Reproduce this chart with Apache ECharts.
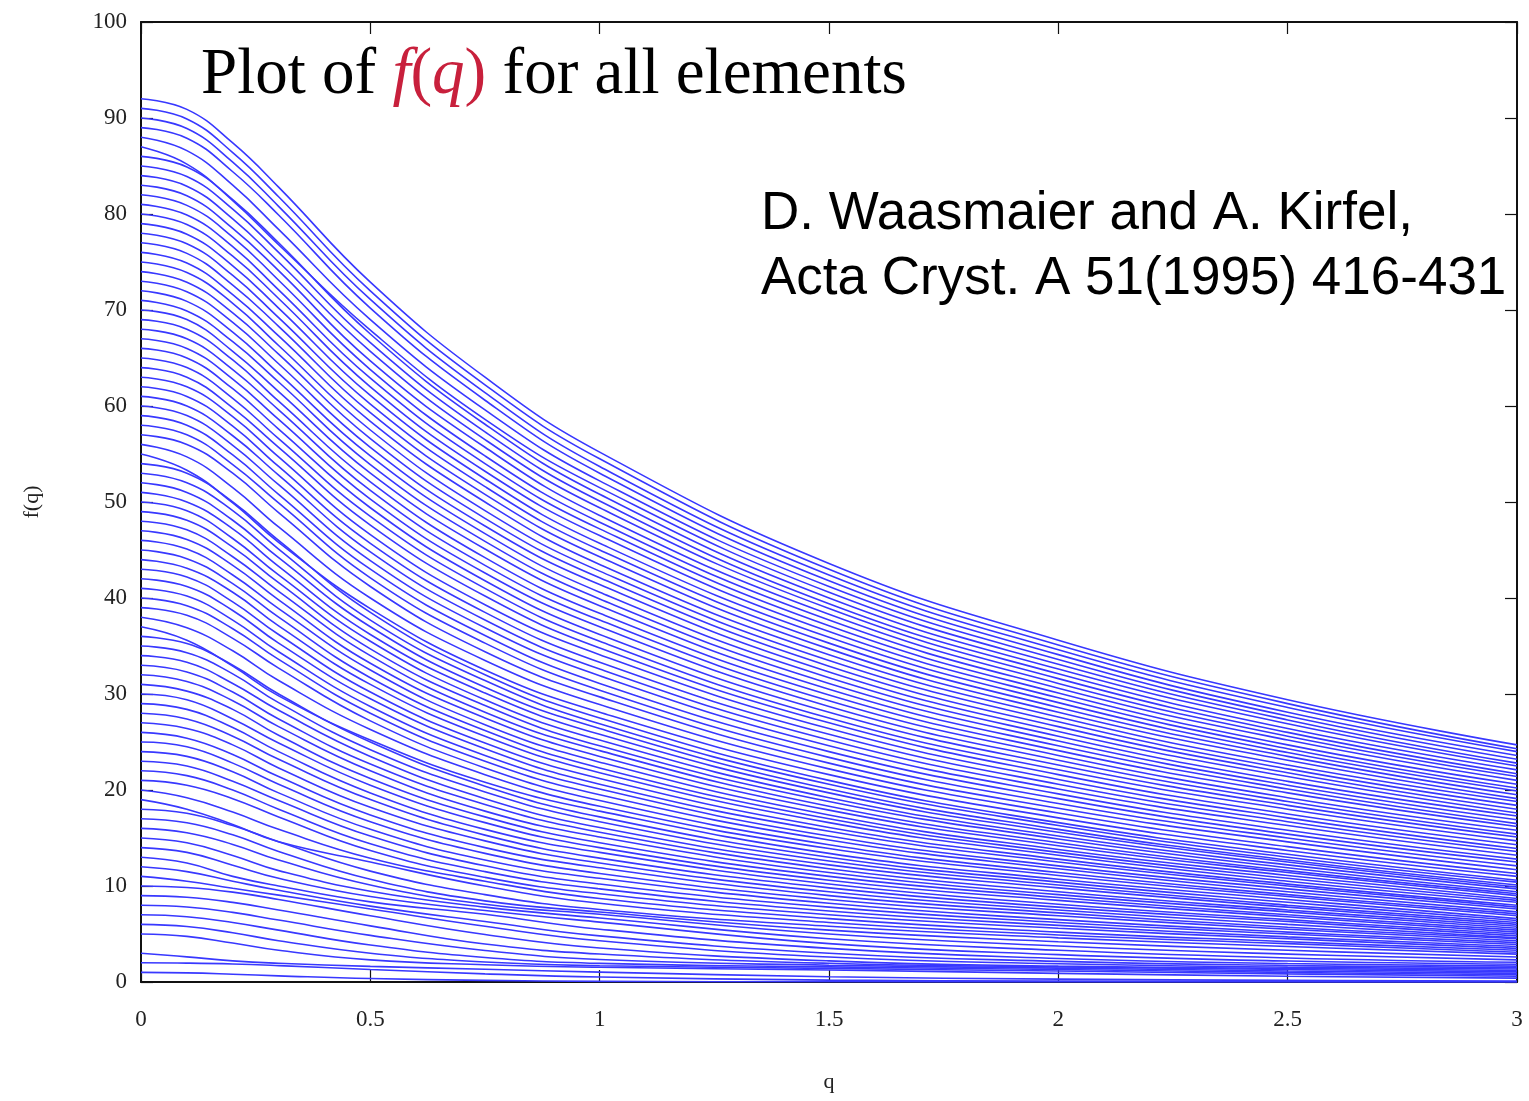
<!DOCTYPE html>
<html>
<head>
<meta charset="utf-8">
<script src="https://cdn.jsdelivr.net/npm/echarts@6/dist/echarts.min.js"></script>
<style>
  html, body { margin: 0; padding: 0; background: #fff; }
  #chart { width: 1529px; height: 1101px; }
</style>
</head>
<body>
<div id="chart"></div>
<script>
const qList = [0, 0.1, 0.2, 0.3, 0.5, 0.75, 1, 1.5, 2, 2.5, 3];

// f(q) per element, first value = Z (f at q = 0); no Be curve in the plot
const fLight = [
  [1, 0.95, 0.81, 0.64, 0.36, 0.17, 0.07, 0.02, 0.01, 0.0, 0.0],
  [2, 1.97, 1.88, 1.71, 1.30, 0.85, 0.52, 0.20, 0.09, 0.05, 0.03],
  [3, 2.62, 2.20, 1.95, 1.63, 1.33, 1.03, 0.55, 0.30, 0.17, 0.10],
  [5, 4.75, 4.06, 3.30, 2.30, 1.80, 1.53, 1.25, 0.90, 0.60, 0.40],
  [6, 5.78, 5.13, 4.30, 3.00, 2.08, 1.70, 1.42, 1.14, 0.85, 0.60],
  [7, 6.80, 6.20, 5.40, 3.85, 2.55, 1.94, 1.58, 1.30, 1.00, 0.75],
  [8, 7.81, 7.25, 6.45, 4.86, 3.28, 2.34, 1.75, 1.45, 1.15, 0.90],
  [9, 8.83, 8.29, 7.50, 5.85, 3.95, 2.91, 1.95, 1.58, 1.30, 1.05],
  [10, 9.84, 9.36, 8.60, 6.90, 4.95, 3.54, 2.20, 1.65, 1.42, 1.20],
  [11, 10.50, 9.76, 9.05, 7.60, 5.80, 4.29, 2.60, 1.90, 1.55, 1.35],
  [12, 11.50, 10.50, 9.55, 7.90, 6.30, 4.80, 3.00, 2.15, 1.72, 1.50],
  [13, 12.40, 11.00, 10.00, 8.35, 7.05, 5.50, 3.50, 2.45, 1.92, 1.65],
  [14, 13.50, 12.16, 10.80, 8.90, 7.45, 6.24, 4.00, 2.85, 2.18, 1.85],
  [15, 14.50, 13.17, 11.60, 9.45, 7.80, 6.67, 4.50, 3.30, 2.50, 2.05],
  [16, 15.55, 14.33, 12.70, 10.10, 8.10, 7.05, 5.00, 3.75, 2.90, 2.30],
  [17, 16.58, 15.33, 13.60, 10.70, 8.45, 7.29, 5.40, 4.20, 3.30, 2.60],
  [18, 17.58, 16.30, 14.60, 11.55, 9.10, 7.56, 5.80, 4.60, 3.70, 2.90]
];

const fPeriod4 = [
  [19, 18.0, 16.4, 14.6, 12.5, 10.0, 8.2, 6.2, 4.9, 4.0, 3.1],
  [20, 19.2, 17.7, 15.9, 12.9, 10.5, 8.7, 6.6, 5.2, 4.2, 3.3],
  [21, 20.5, 19.1, 17.2, 13.7, 10.9, 9.2, 7.0, 5.6, 4.5, 3.5],
  [22, 21.5, 20.0, 18.0, 14.4, 11.5, 9.7, 7.4, 5.9, 4.7, 3.7],
  [23, 22.5, 20.9, 18.9, 15.2, 12.1, 10.2, 7.8, 6.2, 5.0, 3.9],
  [24, 23.5, 21.9, 19.7, 15.9, 12.7, 10.8, 8.2, 6.5, 5.2, 4.1],
  [25, 24.5, 22.8, 20.6, 16.7, 13.4, 11.3, 8.6, 6.9, 5.5, 4.3],
  [26, 25.4, 23.7, 21.4, 17.4, 14.0, 11.9, 9.0, 7.2, 5.7, 4.5],
  [27, 26.4, 24.7, 22.3, 18.2, 14.7, 12.4, 9.4, 7.5, 6.0, 4.6],
  [28, 27.4, 25.6, 23.2, 19.0, 15.3, 12.9, 9.8, 7.8, 6.3, 4.8],
  [29, 28.4, 26.5, 24.0, 19.7, 15.9, 13.5, 10.2, 8.1, 6.5, 5.0],
  [30, 29.4, 27.4, 24.9, 20.5, 16.6, 14.0, 10.6, 8.5, 6.8, 5.2],
  [31, 30.3, 28.4, 25.7, 21.2, 17.2, 14.5, 11.0, 8.8, 7.0, 5.4],
  [32, 31.3, 29.3, 26.6, 22.0, 17.8, 15.1, 11.4, 9.1, 7.3, 5.6],
  [33, 32.3, 30.2, 27.4, 22.7, 18.5, 15.6, 11.8, 9.4, 7.5, 5.8],
  [34, 33.3, 31.1, 28.3, 23.5, 19.1, 16.1, 12.2, 9.8, 7.8, 6.0],
  [35, 34.3, 32.1, 29.1, 24.2, 19.8, 16.7, 12.6, 10.1, 8.0, 6.2],
  [36, 35.25, 33.0, 30.0, 25.0, 20.4, 17.2, 13.0, 10.4, 8.3, 6.4]
];

const fPeriod5 = [
  [37, 35.6, 32.9, 29.8, 25.2, 20.8, 17.8, 13.4, 10.7, 8.6, 6.6],
  [38, 36.9, 34.5, 31.4, 26.3, 21.6, 18.3, 13.9, 11.1, 8.9, 6.9],
  [39, 38.2, 35.8, 32.7, 27.2, 22.3, 18.9, 14.3, 11.4, 9.1, 7.1],
  [40, 39.2, 36.8, 33.6, 28.0, 23.0, 19.5, 14.8, 11.8, 9.4, 7.3],
  [41, 40.2, 37.7, 34.4, 28.7, 23.6, 20.1, 15.2, 12.1, 9.7, 7.6],
  [42, 41.2, 38.7, 35.3, 29.5, 24.3, 20.6, 15.7, 12.5, 10.0, 7.8],
  [43, 42.2, 39.6, 36.2, 30.2, 24.9, 21.2, 16.1, 12.8, 10.2, 8.0],
  [44, 43.1, 40.6, 37.1, 31.0, 25.6, 21.8, 16.6, 13.2, 10.5, 8.3],
  [45, 44.1, 41.5, 38.0, 31.7, 26.2, 22.3, 17.0, 13.5, 10.8, 8.5],
  [46, 45.1, 42.4, 38.9, 32.5, 26.8, 22.9, 17.4, 13.8, 11.1, 8.7],
  [47, 46.1, 43.4, 39.8, 33.2, 27.5, 23.5, 17.9, 14.2, 11.4, 9.0],
  [48, 47.1, 44.3, 40.7, 34.0, 28.1, 24.1, 18.3, 14.5, 11.6, 9.2],
  [49, 48.1, 45.3, 41.6, 34.7, 28.8, 24.6, 18.8, 14.9, 11.9, 9.4],
  [50, 49.1, 46.2, 42.4, 35.5, 29.4, 25.2, 19.2, 15.2, 12.2, 9.7],
  [51, 50.0, 47.2, 43.3, 36.2, 30.1, 25.8, 19.7, 15.6, 12.5, 9.9],
  [52, 51.0, 48.1, 44.2, 37.0, 30.7, 26.4, 20.1, 15.9, 12.7, 10.1],
  [53, 52.0, 49.1, 45.1, 37.7, 31.4, 26.9, 20.6, 16.3, 13.0, 10.4],
  [54, 53.0, 50.0, 46.0, 38.5, 32.0, 27.5, 21.0, 16.6, 13.3, 10.6]
];

const fPeriod67 = [
  [55, 53.3, 49.9, 45.8, 38.9, 32.5, 28.1, 21.6, 17.1, 13.7, 11.0],
  [56, 54.7, 51.5, 47.4, 40.0, 33.5, 28.9, 22.2, 17.6, 14.1, 11.3],
  [57, 56.0, 53.0, 48.9, 41.2, 34.4, 29.7, 22.8, 18.1, 14.6, 11.7],
  [58, 57.0, 53.9, 49.9, 42.1, 35.3, 30.4, 23.4, 18.6, 15.0, 12.1],
  [59, 58.0, 54.9, 50.8, 43.0, 36.1, 31.1, 24.0, 19.1, 15.4, 12.5],
  [60, 59.0, 55.9, 51.8, 43.9, 36.9, 31.9, 24.6, 19.6, 15.8, 12.8],
  [61, 60.0, 56.9, 52.8, 44.8, 37.7, 32.6, 25.2, 20.1, 16.3, 13.2],
  [62, 61.0, 57.9, 53.7, 45.7, 38.5, 33.3, 25.8, 20.6, 16.7, 13.6],
  [63, 62.0, 58.9, 54.7, 46.6, 39.3, 34.1, 26.4, 21.1, 17.1, 13.9],
  [64, 63.0, 59.8, 55.7, 47.6, 40.2, 34.8, 27.0, 21.6, 17.5, 14.3],
  [65, 64.0, 60.8, 56.6, 48.5, 41.0, 35.5, 27.5, 22.1, 18.0, 14.7],
  [66, 65.0, 61.8, 57.6, 49.4, 41.8, 36.2, 28.1, 22.6, 18.4, 15.1],
  [67, 66.0, 62.8, 58.6, 50.3, 42.6, 37.0, 28.7, 23.1, 18.8, 15.4],
  [68, 67.0, 63.8, 59.6, 51.2, 43.4, 37.7, 29.3, 23.6, 19.2, 15.8],
  [69, 68.0, 64.8, 60.5, 52.1, 44.2, 38.4, 29.9, 24.1, 19.7, 16.2],
  [70, 69.0, 65.7, 61.5, 53.0, 45.1, 39.2, 30.5, 24.6, 20.1, 16.5],
  [71, 69.9, 66.7, 62.5, 53.9, 45.9, 39.9, 31.1, 25.1, 20.5, 16.9],
  [72, 70.9, 67.7, 63.4, 54.8, 46.7, 40.6, 31.7, 25.6, 20.9, 17.3],
  [73, 71.9, 68.7, 64.4, 55.7, 47.5, 41.4, 32.3, 26.1, 21.4, 17.6],
  [74, 72.9, 69.7, 65.4, 56.6, 48.3, 42.1, 32.9, 26.6, 21.8, 18.0],
  [75, 73.9, 70.7, 66.3, 57.5, 49.1, 42.8, 33.5, 27.1, 22.2, 18.4],
  [76, 74.9, 71.6, 67.3, 58.4, 50.0, 43.5, 34.1, 27.6, 22.6, 18.8],
  [77, 75.9, 72.6, 68.3, 59.3, 50.8, 44.3, 34.7, 28.1, 23.1, 19.1],
  [78, 76.9, 73.6, 69.2, 60.2, 51.6, 45.0, 35.3, 28.6, 23.5, 19.5],
  [79, 77.9, 74.6, 70.2, 61.1, 52.4, 45.7, 35.9, 29.1, 23.9, 19.9],
  [80, 78.9, 75.6, 71.2, 62.0, 53.2, 46.5, 36.5, 29.6, 24.3, 20.2],
  [81, 79.9, 76.6, 72.1, 62.9, 54.0, 47.2, 37.1, 30.1, 24.7, 20.6],
  [82, 80.9, 77.6, 73.1, 63.8, 54.8, 47.9, 37.7, 30.6, 25.2, 21.0],
  [83, 81.9, 78.5, 74.1, 64.7, 55.7, 48.6, 38.3, 31.1, 25.6, 21.4],
  [84, 82.9, 79.5, 75.0, 65.7, 56.5, 49.4, 38.9, 31.6, 26.0, 21.7],
  [85, 83.9, 80.5, 76.0, 66.6, 57.3, 50.1, 39.4, 32.1, 26.4, 22.1],
  [86, 84.9, 81.5, 77.0, 67.5, 58.1, 50.8, 40.0, 32.6, 26.9, 22.5],
  [87, 85.2, 81.4, 76.8, 67.9, 58.6, 51.5, 40.6, 33.1, 27.3, 22.8],
  [88, 86.6, 83.0, 78.4, 69.0, 59.6, 52.2, 41.2, 33.6, 27.7, 23.2],
  [89, 87.9, 84.4, 79.9, 70.2, 60.6, 53.0, 41.8, 34.1, 28.1, 23.6],
  [90, 88.9, 85.4, 80.8, 71.1, 61.4, 53.7, 42.4, 34.6, 28.6, 24.0],
  [91, 89.9, 86.4, 81.8, 72.0, 62.2, 54.5, 43.0, 35.1, 29.0, 24.3],
  [92, 90.9, 87.4, 82.8, 72.9, 63.0, 55.2, 43.6, 35.6, 29.4, 24.7]
];

const xTicks = [0, 0.5, 1, 1.5, 2, 2.5, 3];
const yTicks = [0, 10, 20, 30, 40, 50, 60, 70, 80, 90, 100];

const serif = '"Liberation Serif", "DejaVu Serif", serif';
const lineBlue = '#3838ff';

const rows = [].concat(fLight, fPeriod4, fPeriod5, fPeriod67);
const series = rows.map(row => ({
  type: 'line',
  name: 'Z=' + row[0],
  data: qList.map((q, i) => [q, row[i]]),
  smooth: 0.45,
  showSymbol: false,
  lineStyle: { color: lineBlue, width: 1.6 },
  emphasis: { disabled: true },
  silent: true
}));

function frameTick() {
  return { show: true, inside: true, length: 12, lineStyle: { color: '#111', width: 1.2 } };
}
function frameLine() {
  return { show: true, onZero: false, lineStyle: { color: '#111', width: 2 } };
}

const chart = echarts.init(document.getElementById('chart'));
chart.setOption({
  animation: false,
  backgroundColor: '#fff',
  title: [
    {
      left: 196, top: 36,
      text: '{a|Plot of }{f|f}{p|(}{f|q}{p|)}{a| for all elements}',
      textStyle: {
        fontWeight: 'normal',
        rich: {
          a: { fontFamily: serif, fontSize: 65, fontWeight: 'normal', color: '#000', lineHeight: 70 },
          f: { fontFamily: serif, fontSize: 65, fontWeight: 'normal', fontStyle: 'italic', color: '#c8203c', lineHeight: 70 },
          p: { fontFamily: serif, fontSize: 65, fontWeight: 'normal', color: '#c8203c', lineHeight: 70 }
        }
      }
    },
    {
      left: 756, top: 177,
      text: 'D. Waasmaier and A. Kirfel,\nActa Cryst. A 51(1995) 416-431',
      textStyle: {
        fontFamily: '"Liberation Sans", Arial, sans-serif',
        fontSize: 53, fontWeight: 'normal', color: '#000', lineHeight: 65
      }
    }
  ],
  grid: { left: 141, right: 12, top: 22, bottom: 119 },
  xAxis: [
    {
      type: 'value', min: 0, max: 3, interval: 0.5,
      name: 'q', nameLocation: 'middle', nameGap: 89,
      nameTextStyle: { fontFamily: serif, fontSize: 22, color: '#222' },
      axisLine: frameLine(), axisTick: frameTick(), splitLine: { show: false },
      axisLabel: {
        margin: 26, fontFamily: serif, fontSize: 23, color: '#222',
        formatter: v => xTicks.includes(v) ? String(v) : ''
      }
    },
    {
      type: 'value', min: 0, max: 3, interval: 0.5, position: 'top',
      axisLine: frameLine(), axisTick: frameTick(), splitLine: { show: false },
      axisLabel: { show: false }
    }
  ],
  yAxis: [
    {
      type: 'value', min: 0, max: 100, interval: 10,
      name: 'f(q)', nameLocation: 'middle', nameGap: 98, nameRotate: 90,
      nameTextStyle: { fontFamily: serif, fontSize: 22, color: '#222' },
      axisLine: frameLine(), axisTick: frameTick(), splitLine: { show: false },
      axisLabel: {
        margin: 14, fontFamily: serif, fontSize: 23, color: '#222',
        formatter: v => yTicks.includes(v) ? String(v) : ''
      }
    },
    {
      type: 'value', min: 0, max: 100, interval: 10, position: 'right',
      axisLine: frameLine(), axisTick: frameTick(), splitLine: { show: false },
      axisLabel: { show: false }
    }
  ],
  series: series
});
</script>
</body>
</html>
